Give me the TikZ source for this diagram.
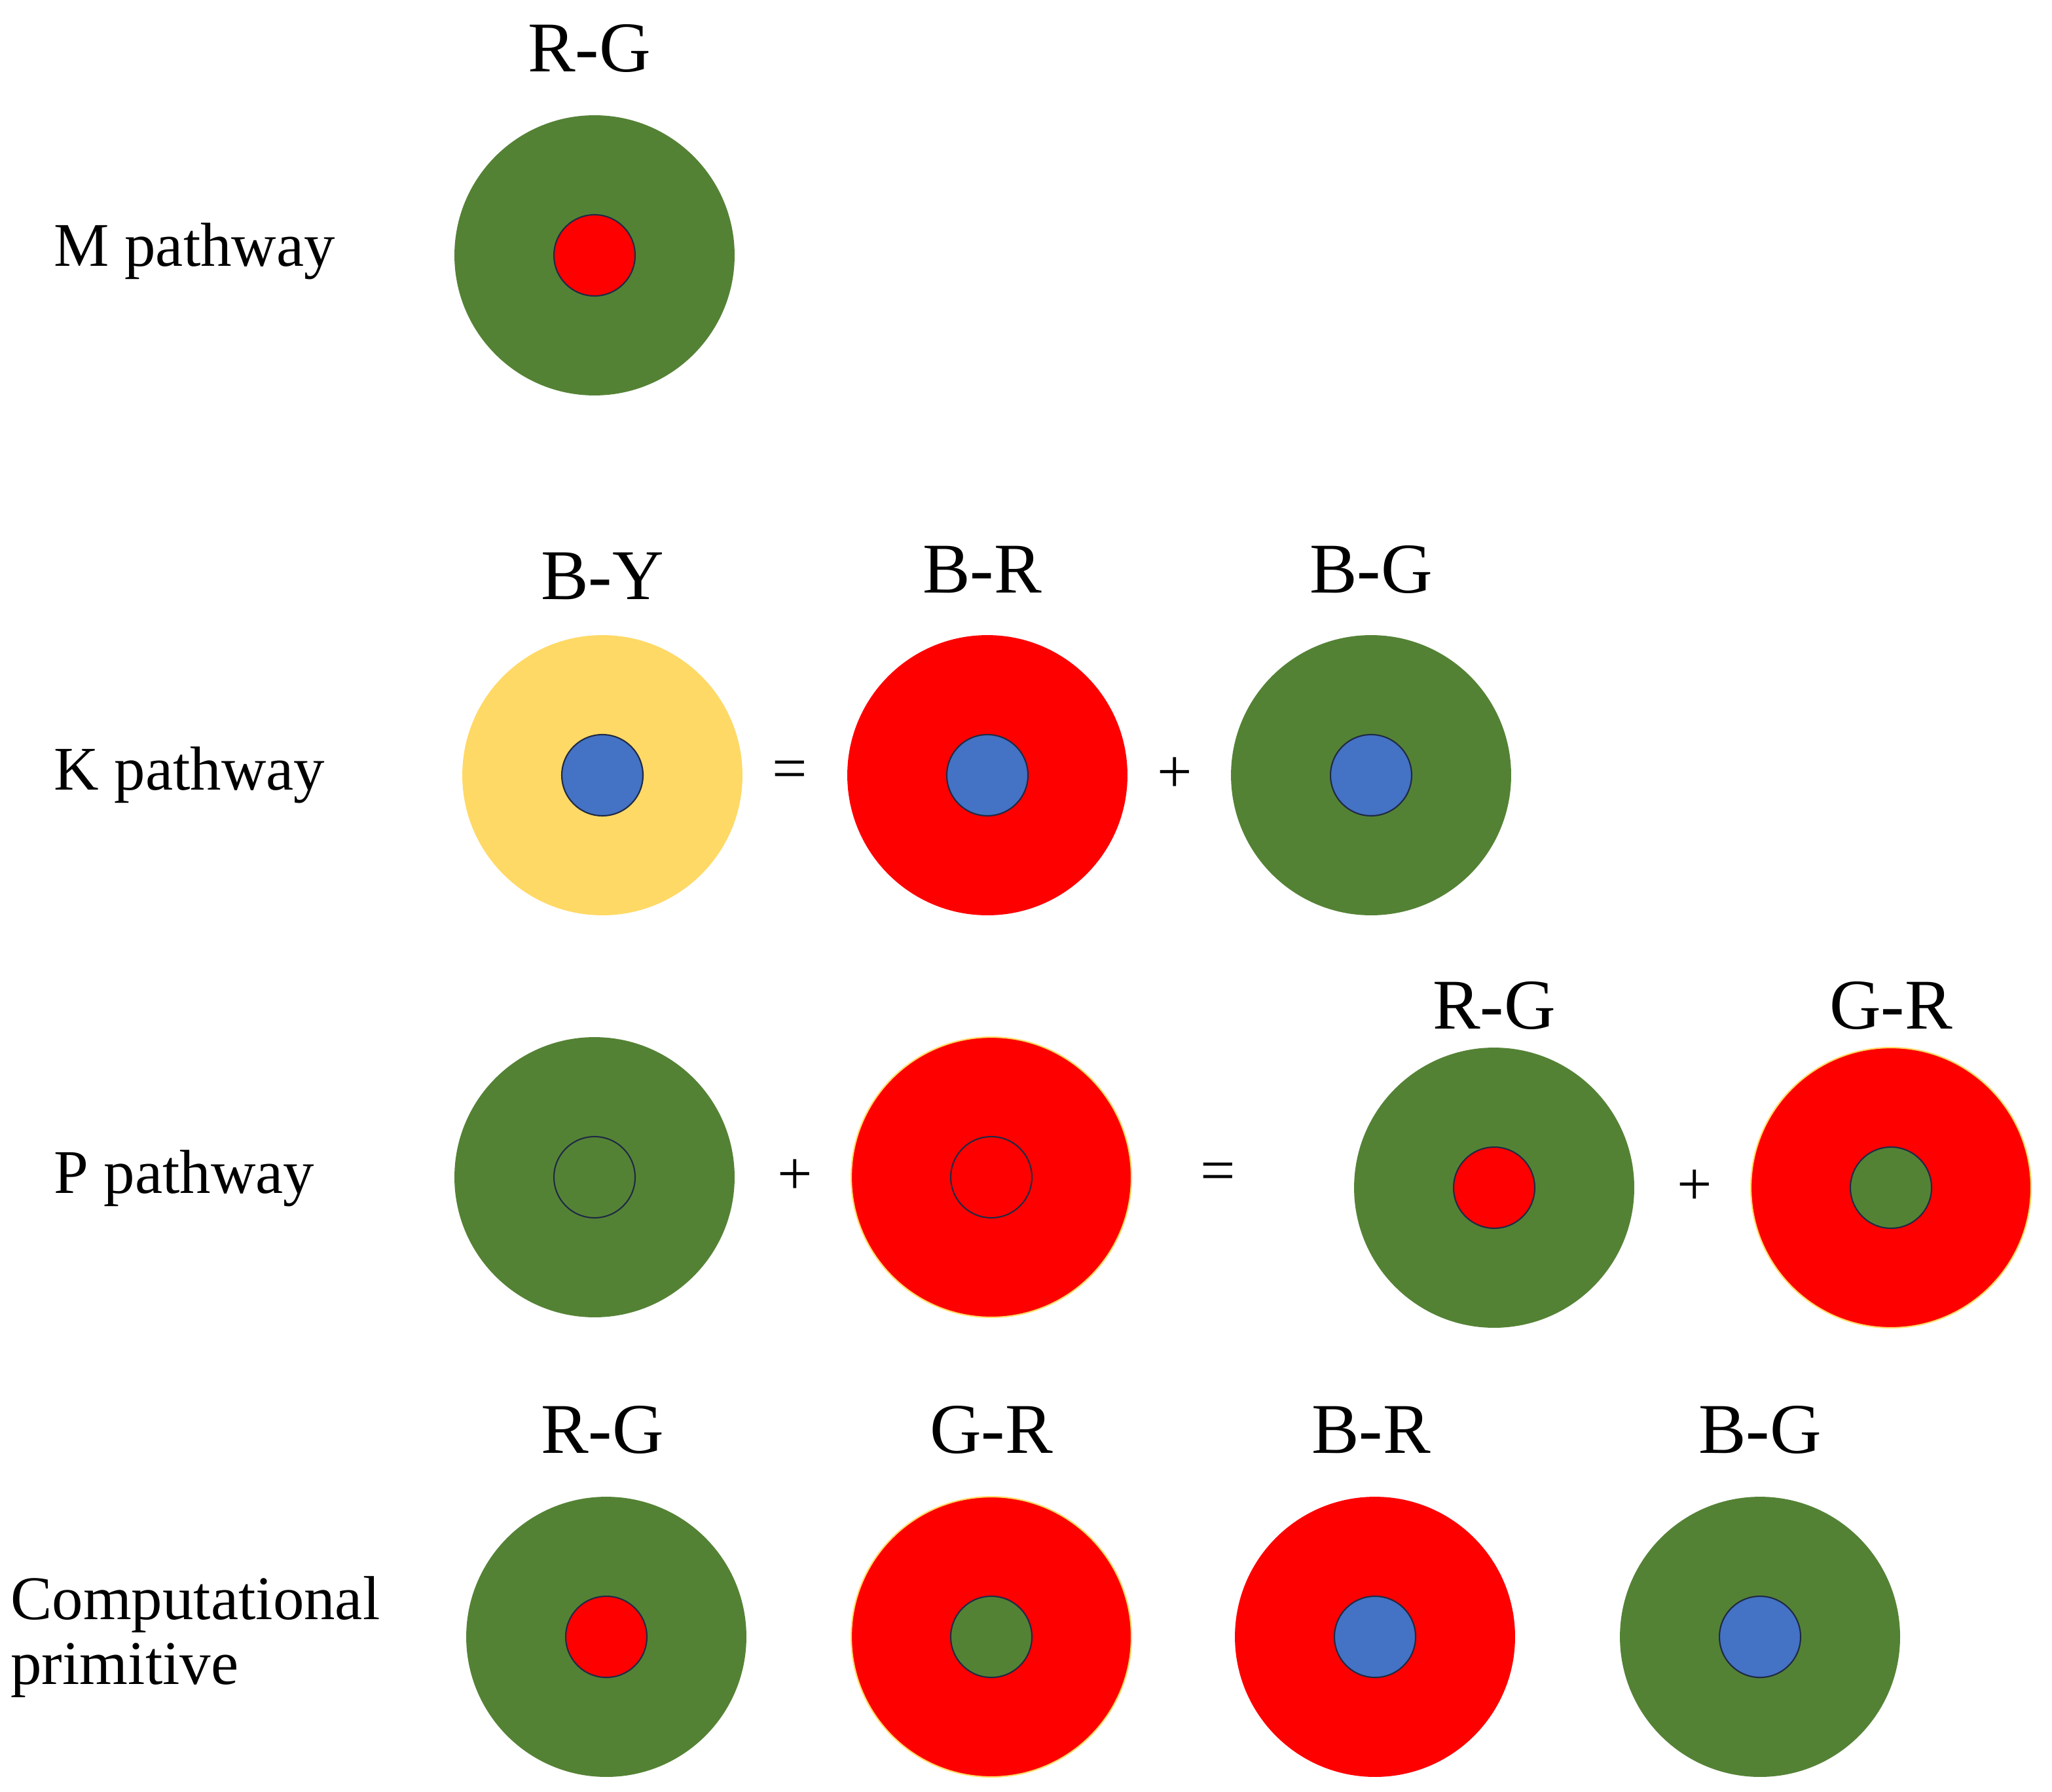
\documentclass[tikz,border=0pt]{standalone}
\usepackage{fontspec}
\setmainfont{Liberation Serif}
\definecolor{gr}{HTML}{548235}
\definecolor{rd}{HTML}{FF0000}
\definecolor{yl}{HTML}{FFD966}
\definecolor{bl}{HTML}{4472C4}
\definecolor{ol}{HTML}{1F2A44}
\begin{document}
\begin{tikzpicture}[x=0.02cm,y=-0.02cm,
 outer/.style={circle,minimum size=4.28cm,inner sep=0pt,fill=#1},
 inner/.style={circle,minimum size=1.24cm,inner sep=0pt,fill=#1,draw=ol,line width=0.6pt},
 hollow/.style={circle,minimum size=1.24cm,inner sep=0pt,draw=ol,line width=0.6pt},
 lab/.style={font=\fontsize{31}{34}\selectfont},
 side/.style={font=\fontsize{27}{32}\selectfont,anchor=west},
 op/.style={font=\fontsize{27}{30}\selectfont}]
\useasboundingbox (0,0) rectangle (1567,1368);
% M pathway
\node[side] (tm) at (35,192) {M pathway};
\node[lab] (l1) at (450,37) {R-G};
\node[outer=gr] (m) at (454,195) {};
\node[inner=rd] (mi) at (454,195) {};
% K pathway
\node[side] (tk) at (35,592) {K pathway};
\node[lab] (l2) at (460,440) {B-Y};
\node[lab] (l3) at (750,435) {B-R};
\node[lab] (l4) at (1047,435) {B-G};
\node[outer=yl] (k1) at (460,592) {};
\node[inner=bl] (k1i) at (460,592) {};
\node[op] (e1) at (603,592) {=};
\node[outer=rd] (k2) at (754,592) {};
\node[inner=bl] (k2i) at (754,592) {};
\node[op] (p1) at (897,592) {+};
\node[outer=gr] (k3) at (1047,592) {};
\node[inner=bl] (k3i) at (1047,592) {};
% P pathway
\node[side] (tp) at (35,900) {P pathway};
\node[outer=gr] (q1) at (454,899) {};
\node[hollow] (q1i) at (454,899) {};
\node[op] (p2) at (607,899) {+};
\node[outer=rd,draw=yl,line width=0.6pt] (q2) at (757,899) {};
\node[hollow] (q2i) at (757,899) {};
\node[op] (e2) at (930,899) {=};
\node[lab] (l5) at (1141,768) {R-G};
\node[lab] (l6) at (1444,768) {G-R};
\node[outer=gr] (q3) at (1141,907) {};
\node[inner=rd] (q3i) at (1141,907) {};
\node[op] (p3) at (1294,907) {+};
\node[outer=rd,draw=yl,line width=0.6pt] (q4) at (1444,907) {};
\node[inner=gr] (q4i) at (1444,907) {};
% Computational primitive
\node[side,align=left] (tc) at (2,1250) {Computational\\[-4pt]primitive};
\node[lab] (l7) at (460,1092) {R-G};
\node[lab] (l8) at (757,1092) {G-R};
\node[lab] (l9) at (1047,1092) {B-R};
\node[lab] (l10) at (1344,1092) {B-G};
\node[outer=gr] (c1) at (463,1250) {};
\node[inner=rd] (c1i) at (463,1250) {};
\node[outer=rd,draw=yl,line width=0.6pt] (c2) at (757,1250) {};
\node[inner=gr] (c2i) at (757,1250) {};
\node[outer=rd] (c3) at (1050,1250) {};
\node[inner=bl] (c3i) at (1050,1250) {};
\node[outer=gr] (c4) at (1344,1250) {};
\node[inner=bl] (c4i) at (1344,1250) {};
\end{tikzpicture}
\end{document}
